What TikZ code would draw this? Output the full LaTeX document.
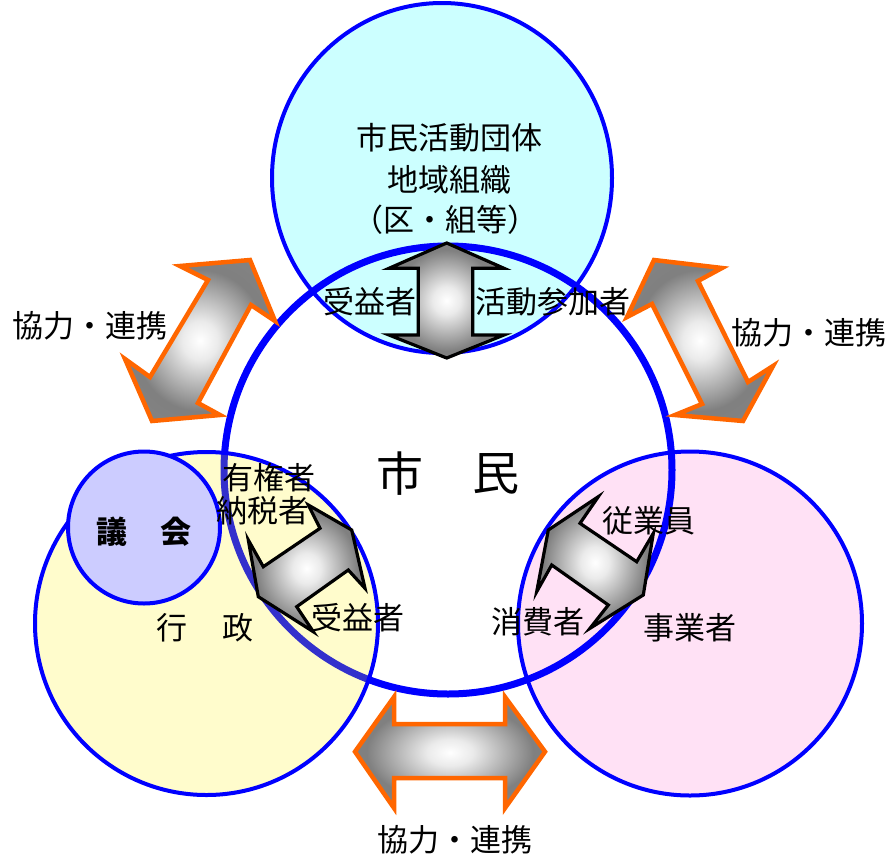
\documentclass[tikz,border=0pt]{standalone}
\usepackage{fontspec}
\newfontfamily\jp{Noto Sans CJK JP}
\usetikzlibrary{shadings}
\definecolor{cblue}{RGB}{0,0,255}
\definecolor{ccyan}{RGB}{204,255,255}
\definecolor{cpink}{RGB}{255,225,245}
\definecolor{clav}{RGB}{204,204,255}
\definecolor{corange}{RGB}{255,102,0}
\pgfdeclareradialshading{arrowshade}{\pgfpoint{0bp}{0bp}}{color(0bp)=(white); color(6bp)=(white!92!black); color(22bp)=(black!50); color(50bp)=(black!45)}
\tikzset{
  circ/.style={draw=cblue, line width=4pt},
  bigarrow/.style={draw=corange, line width=4.5pt, line join=miter, shading=arrowshade},
  smallarrow/.style={draw=black, line width=3.2pt, line join=miter, shading=arrowshade},
  lbl/.style={font=\jp\fontsize{31}{36}\selectfont, inner sep=0pt, align=center},
  big/.style={font=\jp\fontsize{47}{52}\selectfont, inner sep=0pt},
  bld/.style={font=\jp\bfseries\fontsize{31}{36}\selectfont, inner sep=0pt},
}
\begin{document}
\begin{tikzpicture}[x=1pt,y=-1pt]
\useasboundingbox (0,0) rectangle (891,857);
% circles
\draw[circ, fill=ccyan] (442,178) ellipse [x radius=170, y radius=175];
\draw[circ, fill=cpink] (690,623.5) circle (172);
\draw[cblue, line width=7pt] (448,470) circle (224);
\fill[yellow, fill opacity=0.2] (206.5,623.5) circle (171.5);
\draw[circ] (206.5,623.5) circle (171.5);
\draw[circ, fill=clav] (144,527.5) circle (76);
% orange arrows
\path[bigarrow] (180,266) -- (250,260) -- (275,321) -- (251,305) -- (198,403) -- (220,415) -- (152,421) -- (125,359) -- (150,377) -- (208,280) -- cycle;
\path[bigarrow] (654,260) -- (722,268) -- (698,281) -- (748,382) -- (773,366) -- (743,421) -- (675,415) -- (702,404) -- (652,304) -- (627,317) -- cycle;
\path[bigarrow] (355,751.7) -- (394,697) -- (394,724) -- (505,724) -- (505,697) -- (545,751.7) -- (505,808) -- (505,778) -- (394,778) -- (394,808) -- cycle;
% black arrows
\path[smallarrow] (446.7,243) -- (504,268.3) -- (472.7,268.3) -- (472.7,335) -- (504,335) -- (446.7,358) -- (389,335) -- (418.3,335) -- (418.3,268.3) -- (389,268.3) -- cycle;
\path[smallarrow] (308.3,505) -- (351.7,530) -- (365,588.3) -- (348.3,570) -- (296.7,606.7) -- (313.3,631.7) -- (258.3,596.7) -- (248.3,540) -- (263.3,566.7) -- (320,528.3) -- cycle;
\path[smallarrow] (598.3,496.7) -- (548.3,530) -- (536.7,591.7) -- (551.7,565) -- (608.3,605) -- (590,628.3) -- (643.3,595) -- (653.3,533.3) -- (636.7,561.7) -- (580,523.3) -- cycle;
% texts
\node[lbl] (t1) at (449,138) {市民活動団体};
\node[lbl] (t2) at (449,180) {地域組織};
\node[lbl] (t3) at (445,220) {（区・組等）};
\node[lbl] (t4) at (370,302) {受益者};
\node[lbl] (t5) at (553,302) {活動参加者};
\node[big] (s1) at (400,474) {市};
\node[big] (s2) at (496,474) {民};
\node[lbl] (t6) at (269,478) {有権者};
\node[lbl] (t7) at (263,511) {納税者};
\node[lbl] (t8) at (358,618) {受益者};
\node[lbl] (t9) at (649,521) {従業員};
\node[lbl] (t10) at (538,622) {消費者};
\node[lbl] (t11) at (690,628) {事業者};
\node[bld] (g1) at (112,532) {議};
\node[bld] (g2) at (176,532) {会};
\node[lbl] (k1) at (172,628) {行};
\node[lbl] (k2) at (238,628) {政};
\node[lbl] (c1) at (90,326) {協力・連携};
\node[lbl] (c2) at (809,333) {協力・連携};
\node[lbl] (c3) at (455,840) {協力・連携};
\end{tikzpicture}
\end{document}
